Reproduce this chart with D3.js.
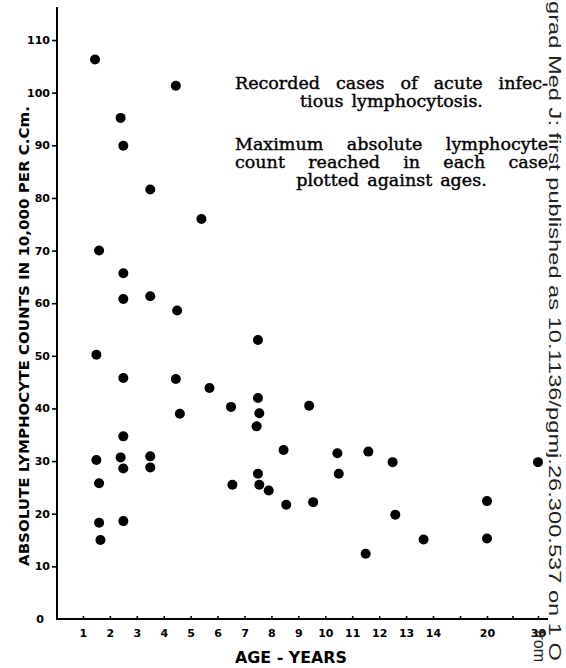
<!DOCTYPE html>
<html>
<head>
<meta charset="utf-8">
<script src="https://cdn.jsdelivr.net/npm/d3@7"></script>
<style>
  body { margin: 0; background: #fff; }
  svg { display: block; }
  .tick text { font-family: "DejaVu Sans", sans-serif; font-weight: bold; font-size: 11px; fill: #000; }
</style>
</head>
<body>
<div id="chart"></div>
<script>
// Age (years) and maximum absolute lymphocyte count (x 10,000 per c.cm.) for each case
const ages = [
  1.45, 1.6, 1.5, 1.5, 1.6, 1.6, 1.65,
  2.4, 2.5, 2.5, 2.5, 2.5, 2.5, 2.4, 2.5, 2.5,
  3.5, 3.5, 3.5, 3.5,
  4.45, 4.5, 4.45, 4.6,
  5.4, 5.7,
  6.5, 6.55,
  7.5, 7.5, 7.55, 7.45, 7.5, 7.55, 7.9,
  8.45, 8.55,
  9.4, 9.55,
  10.45, 10.5,
  11.6, 11.5,
  12.5, 12.6,
  13.65,
  20, 20,
  30
];
const counts = [
  106.3, 70, 50.2, 30.2, 25.8, 18.3, 15,
  95.2, 89.9, 65.7, 60.8, 45.8, 34.7, 30.7, 28.6, 18.6,
  81.6, 61.3, 30.9, 28.8,
  101.3, 58.6, 45.6, 39,
  76, 43.9,
  40.3, 25.5,
  53, 42, 39.1, 36.6, 27.6, 25.5, 24.4,
  32.1, 21.7,
  40.5, 22.2,
  31.5, 27.6,
  31.8, 12.4,
  29.8, 19.8,
  15.1,
  22.4, 15.3,
  29.8
];

const yTicks = [0, 10, 20, 30, 40, 50, 60, 70, 80, 90, 100, 110];
const xTicks = [1, 2, 3, 4, 5, 6, 7, 8, 9, 10, 11, 12, 13, 14, 17, 20, 25, 30];
const xLabelled = [1, 2, 3, 4, 5, 6, 7, 8, 9, 10, 11, 12, 13, 14, 20, 30];

const notes = [
  { words: ["Recorded", "cases", "of", "acute", "infec-"], mode: "justify" },
  { words: ["tious", "lymphocytosis."], mode: "center" },
  { words: ["Maximum", "absolute", "lymphocyte"], mode: "justify" },
  { words: ["count", "reached", "in", "each", "case"], mode: "justify" },
  { words: ["plotted", "against", "ages."], mode: "center" }
];

const width = 566, height = 668;
const svg = d3.select("#chart").append("svg")
  .attr("width", width)
  .attr("height", height);

// the age axis is stretched up to 14 years, then compressed for 20 and 30
const x = d3.scaleLinear().domain([0, 14, 20, 30]).range([56, 433, 487, 538]);
const y = d3.scaleLinear().domain([0, 110]).range([619, 40]);

// y axis
const yAxis = svg.append("g")
  .attr("transform", "translate(57,0)")
  .call(d3.axisLeft(y).tickValues(yTicks).tickSize(5).tickSizeOuter(0).tickPadding(2));
yAxis.select(".domain").remove();
yAxis.selectAll(".tick").filter(d => d === 0).select("line").remove();
yAxis.selectAll(".tick").filter(d => d === 0).select("text").attr("x", -13);
yAxis.selectAll(".tick line").attr("stroke-width", 1.6);

// x axis
const xAxis = svg.append("g")
  .attr("transform", "translate(0,619)")
  .call(d3.axisBottom(x).tickValues(xTicks).tickSize(-3).tickSizeOuter(0).tickPadding(10)
    .tickFormat(d => xLabelled.includes(d) ? d : ""));
xAxis.select(".domain").remove();
xAxis.selectAll(".tick line").attr("stroke-width", 1.6);

svg.append("line")
  .attr("x1", 57).attr("x2", 57)
  .attr("y1", y(0) + 1).attr("y2", 7)
  .attr("stroke", "#000").attr("stroke-width", 2);
svg.append("line")
  .attr("x1", 56).attr("x2", 548)
  .attr("y1", y(0)).attr("y2", y(0))
  .attr("stroke", "#000").attr("stroke-width", 2);

// points
svg.append("g")
  .selectAll("circle")
  .data(ages.map((a, i) => [a, counts[i]]))
  .join("circle")
  .attr("cx", d => x(d[0]))
  .attr("cy", d => y(d[1]))
  .attr("r", 5)
  .attr("fill", "#000");

// axis titles
svg.append("text")
  .attr("transform", "translate(29,336) rotate(-90)")
  .attr("text-anchor", "middle")
  .attr("font-family", "DejaVu Sans, sans-serif")
  .attr("font-weight", "bold")
  .attr("font-size", 14)
  .attr("textLength", 460)
  .attr("lengthAdjust", "spacingAndGlyphs")
  .text("ABSOLUTE  LYMPHOCYTE  COUNTS  IN  10,000  PER  C.Cm.");

svg.append("text")
  .attr("x", 291)
  .attr("y", 663)
  .attr("text-anchor", "middle")
  .attr("font-family", "DejaVu Sans, sans-serif")
  .attr("font-weight", "bold")
  .attr("font-size", 15)
  .attr("textLength", 112)
  .attr("lengthAdjust", "spacingAndGlyphs")
  .text("AGE - YEARS");

// description block, justified like the printed caption
const noteLeft = 235, noteRight = 548;
const baselines = [89, 107, 150, 168, 186];
const noteG = svg.append("g")
  .attr("font-family", "DejaVu Serif, serif")
  .attr("font-size", 17.5)
  .attr("fill", "#000")
  .attr("stroke", "#000")
  .attr("stroke-width", 0.4);

notes.forEach((line, li) => {
  const words = line.words.map(w => noteG.append("text").attr("y", baselines[li]).text(w));
  const widths = words.map(t => t.node().getComputedTextLength());
  const total = d3.sum(widths);
  let gap, pos;
  if (line.mode === "justify") {
    gap = (noteRight - noteLeft - total) / (words.length - 1);
    pos = noteLeft;
  } else {
    gap = 8;
    pos = (noteLeft + noteRight) / 2 - (total + gap * (words.length - 1)) / 2;
  }
  words.forEach((t, i) => {
    t.attr("x", pos);
    pos += widths[i] + gap;
  });
});

// journal watermark along the right edge
svg.append("text")
  .attr("transform", "translate(549,1) rotate(90)")
  .attr("font-family", "Liberation Sans, Arial, sans-serif")
  .attr("font-size", 17)
  .attr("fill", "#222")
  .attr("textLength", 660)
  .attr("lengthAdjust", "spacingAndGlyphs")
  .text("grad Med J: first published as 10.1136/pgmj.26.300.537 on 1 O");

svg.append("text")
  .attr("transform", "translate(534,630) rotate(90)")
  .attr("font-family", "Liberation Sans, Arial, sans-serif")
  .attr("font-size", 16)
  .attr("fill", "#222")
  .text("from");
</script>
</body>
</html>
